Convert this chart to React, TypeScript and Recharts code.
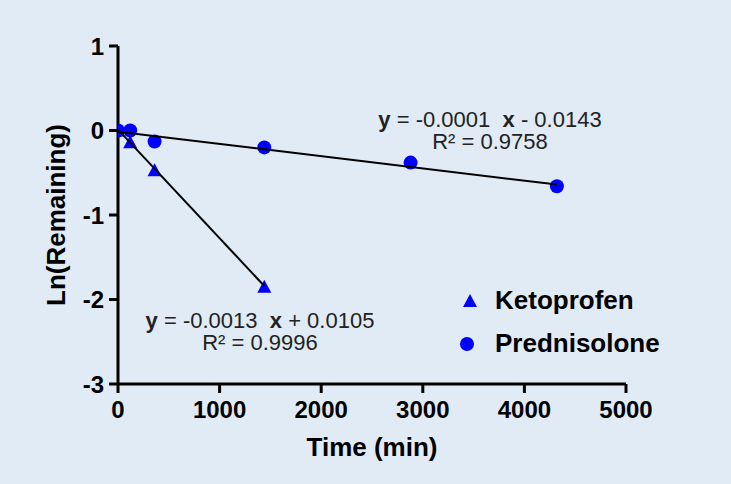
import React from "react";
import {
  ComposedChart,
  Scatter,
  XAxis,
  YAxis
} from "recharts";

const ketoprofenTimes = [0, 120, 360, 1440];
const ketoprofenLn = [0, -0.14, -0.47, -1.85];

const prednisoloneTimes = [0, 120, 360, 1440, 2880, 4320];
const prednisoloneLn = [0, 0, -0.13, -0.2, -0.38, -0.66];

// regression line end points, as drawn
const ketoprofenFitTimes = [0, 1440];
const ketoprofenFitLn = [0.0105, -1.84];
const prednisoloneFitTimes = [0, 4320];
const prednisoloneFitLn = [-0.0143, -0.64];

const xTicks = [0, 1000, 2000, 3000, 4000, 5000];
const yTicks = [-3, -2, -1, 0, 1];

const seriesNames = ["Ketoprofen", "Prednisolone"];
const equations = [
  { slope: "-0.0013", sign: "+", intercept: "0.0105", r2: "R\u00b2 = 0.9996" },
  { slope: "-0.0001", sign: "-", intercept: "0.0143", r2: "R\u00b2 = 0.9758" }
];

const toPoints = (xs: number[], ys: number[]) =>
  xs.map((x, i) => ({ x, y: ys[i] }));

const BLUE = "#0000ff";
const FONT = "Arial, 'Liberation Sans', sans-serif";

const Triangle = (props: any) => {
  const { cx, cy } = props;
  return (
    <polygon
      points={`${cx},${cy - 7} ${cx - 7},${cy + 6} ${cx + 7},${cy + 6}`}
      fill={BLUE}
    />
  );
};

const Dot = (props: any) => {
  const { cx, cy } = props;
  return <circle cx={cx} cy={cy} r={7} fill={BLUE} />;
};

const NoShape = () => <g />;

function LegendBox() {
  return (
    <div
      style={{
        position: "absolute",
        left: 457,
        top: 279,
        fontFamily: FONT,
        fontWeight: 700,
        fontSize: 26
      }}
    >
      {seriesNames.map((name, i) => (
        <div
          key={name}
          style={{ display: "flex", alignItems: "center", height: 43 }}
        >
          <svg width={30} height={20}>
            {i === 0 ? (
              <polygon points="13,3 6,16 20,16" fill={BLUE} />
            ) : (
              <circle cx={10} cy={10} r={7} fill={BLUE} />
            )}
          </svg>
          <span style={{ marginLeft: 8 }}>{name}</span>
        </div>
      ))}
    </div>
  );
}

const eqStyle: React.CSSProperties = {
  position: "absolute",
  fontFamily: FONT,
  fontSize: 22,
  color: "#222",
  whiteSpace: "pre",
  lineHeight: "20px",
  transform: "translateX(-50%)"
};

function Equation({ index, left, top }: { index: number; left: number; top: number }) {
  const eq = equations[index];
  return (
    <>
      <div style={{ ...eqStyle, left, top }}>
        <b>y</b>
        {` = ${eq.slope}  `}
        <b>x</b>
        {` ${eq.sign} ${eq.intercept}`}
      </div>
      <div style={{ ...eqStyle, left, top: top + 22 }}>{eq.r2}</div>
    </>
  );
}

export default function App() {
  return (
    <div
      style={{
        position: "absolute",
        left: 0,
        top: 0,
        width: 731,
        height: 484,
        background: "#e0ebf5"
      }}
    >
      <ComposedChart
        width={731}
        height={484}
        margin={{ top: 46, right: 105, bottom: 60, left: 58 }}
      >
        <XAxis
          type="number"
          dataKey="x"
          domain={[0, 5000]}
          ticks={xTicks}
          allowDataOverflow
          axisLine={{ stroke: "#000", strokeWidth: 3 }}
          tickLine={{ stroke: "#000", strokeWidth: 3 }}
          tickSize={9}
          tickMargin={8}
          height={40}
          tick={{ fill: "#000", fontSize: 24, fontWeight: 700, fontFamily: FONT }}
          label={{
            value: "Time (min)",
            position: "bottom",
            offset: 14,
            fill: "#000",
            fontSize: 26,
            fontWeight: 700,
            fontFamily: FONT
          }}
        />
        <YAxis
          type="number"
          dataKey="y"
          domain={[-3, 1]}
          ticks={yTicks}
          allowDataOverflow
          width={60}
          axisLine={{ stroke: "#000", strokeWidth: 3 }}
          tickLine={{ stroke: "#000", strokeWidth: 3 }}
          tickSize={9}
          tickMargin={5}
          tick={{ fill: "#000", fontSize: 24, fontWeight: 700, fontFamily: FONT }}
          label={{
            value: "Ln(Remaining)",
            angle: -90,
            position: "insideLeft",
            offset: 0,
            dx: -2,
            fill: "#000",
            fontSize: 26,
            fontWeight: 700,
            fontFamily: FONT,
            style: { textAnchor: "middle" }
          }}
        />
        <Scatter
          name={seriesNames[1]}
          data={toPoints(prednisoloneTimes, prednisoloneLn)}
          shape={Dot}
          isAnimationActive={false}
        />
        <Scatter
          name={seriesNames[0]}
          data={toPoints(ketoprofenTimes, ketoprofenLn)}
          shape={Triangle}
          isAnimationActive={false}
        />
        <Scatter
          data={toPoints(ketoprofenFitTimes, ketoprofenFitLn)}
          line={{ stroke: "#000", strokeWidth: 2 }}
          shape={NoShape}
          legendType="none"
          isAnimationActive={false}
        />
        <Scatter
          data={toPoints(prednisoloneFitTimes, prednisoloneFitLn)}
          line={{ stroke: "#000", strokeWidth: 2 }}
          shape={NoShape}
          legendType="none"
          isAnimationActive={false}
        />
      </ComposedChart>
      <LegendBox />
      <Equation index={0} left={260} top={311} />
      <Equation index={1} left={490} top={110} />
    </div>
  );
}
